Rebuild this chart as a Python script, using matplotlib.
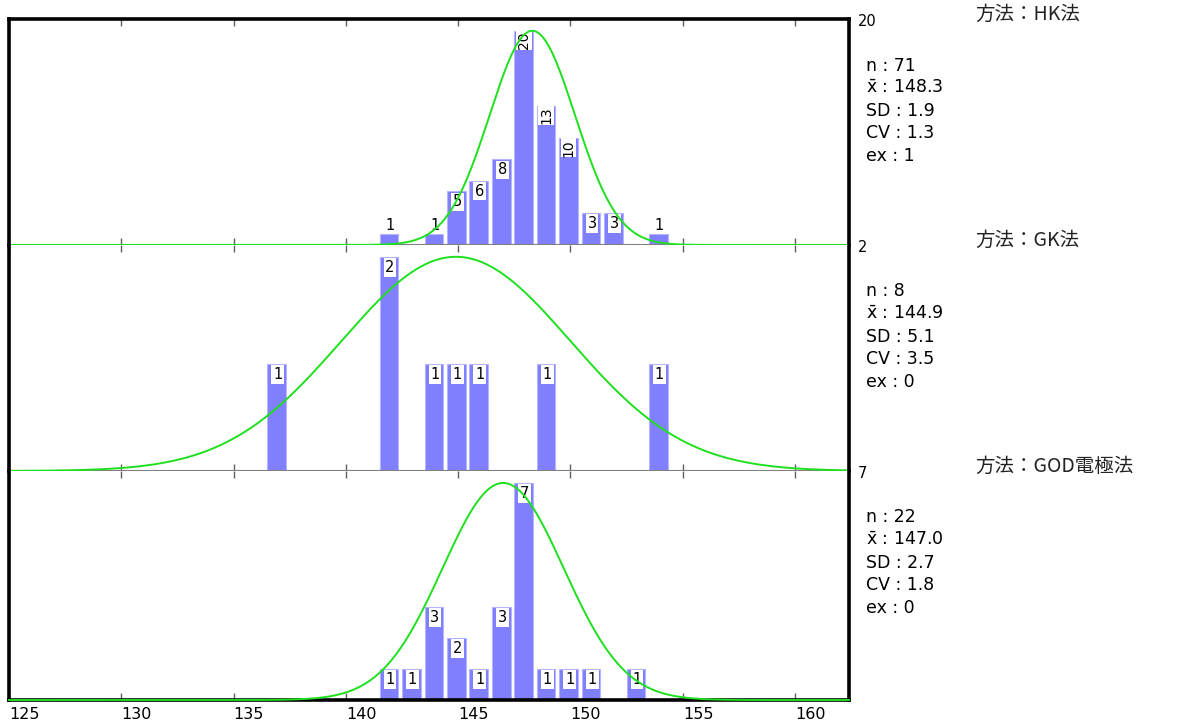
import numpy as np
import matplotlib
matplotlib.use("Agg")
import matplotlib.pyplot as plt

plt.rcParams['mathtext.fontset'] = 'dejavusans'
plt.rcParams['font.family'] = ['DejaVu Sans']

# ---------------- data ----------------
method_titles = ['方法：HK法', '方法：GK法', '方法：GOD電極法']

hk_values = [142, 144, 145, 146, 147, 148, 149, 150, 151, 152, 154]
hk_counts = [1, 1, 5, 6, 8, 20, 13, 10, 3, 3, 1]

gk_values = [137, 142, 144, 145, 146, 149, 154]
gk_counts = [1, 2, 1, 1, 1, 1, 1]

god_values = [142, 143, 144, 145, 146, 147, 148, 149, 150, 151, 153]
god_counts = [1, 1, 3, 2, 1, 3, 7, 1, 1, 1, 1]

stat_n = [71, 8, 22]
stat_mean = [148.3, 144.9, 147.0]
stat_sd = [1.9, 5.1, 2.7]
stat_cv = [1.3, 3.5, 1.8]
stat_ex = [1, 0, 0]

x_ticks = [125, 130, 135, 140, 145, 150, 155, 160]

panels_values = [hk_values, gk_values, god_values]
panels_counts = [hk_counts, gk_counts, god_counts]

# ---------------- layout ----------------
W, H = 1197, 726
fig = plt.figure(figsize=(W / 100, H / 100), dpi=100)

left_px, right_px = 9, 849
bounds_px = [(19, 245), (245, 471), (471, 700)]
XMIN, XMAX = 125, 162.4
BAR_W = 0.83
BAR_FC = '#8080ff'
BAR_EC = '#b4b4ff'
GREEN = '#1ee01e'
GRAY = '#808080'

for i, (top, bot) in enumerate(bounds_px):
    ax = fig.add_axes([left_px / W, 1 - bot / H, (right_px - left_px) / W, (bot - top) / H])
    vals = panels_values[i]
    cnts = panels_counts[i]
    cmax = max(cnts)
    ytop = cmax * 1.055
    ax.set_xlim(XMIN, XMAX)
    ax.set_ylim(0, ytop)
    ax.set_yticks([])
    panel_px = bot - top

    # bars
    ax.bar([v - 0.5 for v in vals], cnts, width=BAR_W, align='edge',
           color=BAR_FC, edgecolor=BAR_EC, linewidth=0.8, zorder=2)

    # count labels
    for v, c in zip(vals, cnts):
        xc = v - 0.5 + BAR_W / 2 + 0.05
        bar_px = c / ytop * panel_px
        if c >= 10:
            ax.annotate(str(c), xy=(xc - 0.05, c), xytext=(0, -1), textcoords='offset pixels',
                        ha='center', va='top', rotation=90, fontsize=10, color='black',
                        bbox=dict(boxstyle='square,pad=0.06', fc='white', ec='none'),
                        zorder=3)
        elif bar_px >= 22:
            ax.annotate(str(c), xy=(xc, c), xytext=(0, -3), textcoords='offset pixels',
                        ha='center', va='top', fontsize=10.5, color='black',
                        bbox=dict(boxstyle='square,pad=0.12', fc='white', ec='none'),
                        zorder=3)
        else:
            ax.annotate(str(c), xy=(xc, c), xytext=(0, 1), textcoords='offset pixels',
                        ha='center', va='bottom', fontsize=10.5, color='black',
                        zorder=3)

    # normal curve scaled to the highest bar
    xs = np.linspace(XMIN, XMAX, 800)
    ys = cmax * np.exp(-0.5 * ((xs - stat_mean[i]) / stat_sd[i]) ** 2)
    ax.plot(xs, ys, color=GREEN, lw=1.4, zorder=5, clip_on=False)

    # spines
    for side in ('left', 'right'):
        ax.spines[side].set_color('black')
        ax.spines[side].set_linewidth(2.6)
    if i == 0:
        ax.spines['top'].set_color('black')
        ax.spines['top'].set_linewidth(2.6)
    else:
        ax.spines['top'].set_visible(False)
    if i == 2:
        ax.spines['bottom'].set_color('black')
        ax.spines['bottom'].set_linewidth(2.6)
    else:
        ax.spines['bottom'].set_color(GRAY)
        ax.spines['bottom'].set_linewidth(1.5)

    # ticks
    ax.set_xticks(x_ticks)
    ax.tick_params(axis='x', direction='in', top=True, bottom=True, length=5,
                   width=1, color='#606060', pad=5, labelsize=11.5)
    if i == 2:
        ax.set_xticklabels([str(t) for t in x_ticks])
        for lab in ax.get_xticklabels():
            lab.set_ha('left')
    else:
        ax.tick_params(labelbottom=False)

    # method title
    ax.annotate(method_titles[i], xy=(1, 1), xycoords='axes fraction',
                xytext=(126, 5), textcoords='offset pixels', ha='left', va='center',
                fontsize=14, color='#222222',
                family=['Noto Sans CJK JP', 'DejaVu Sans'])
    # max count label
    ax.annotate(str(cmax), xy=(1, 1), xycoords='axes fraction',
                xytext=(9, -2), textcoords='offset pixels', ha='left', va='center',
                fontsize=10.5, color='black')
    # statistics
    lines = [f'n : {stat_n[i]}',
             r'$\bar{\mathrm{x}}$' + f' : {stat_mean[i]:.1f}',
             f'SD : {stat_sd[i]:.1f}',
             f'CV : {stat_cv[i]:.1f}',
             f'ex : {stat_ex[i]}']
    for k, s in enumerate(lines):
        ax.annotate(s, xy=(1, 1), xycoords='axes fraction',
                    xytext=(17, -(46.5 + 22.6 * k)), textcoords='offset pixels',
                    ha='left', va='center', fontsize=12.5, color='black')

fig.savefig('out.png', dpi=100)
